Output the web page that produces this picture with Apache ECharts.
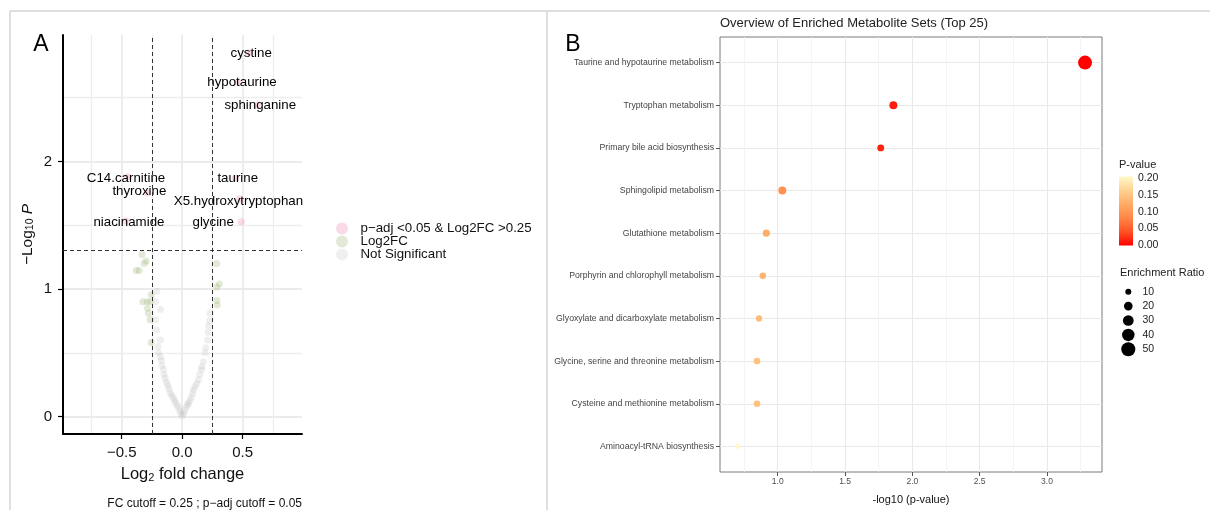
<!DOCTYPE html>
<html>
<head>
<meta charset="utf-8">
<script src="https://cdn.jsdelivr.net/npm/echarts@6.0.0/dist/echarts.min.js"></script>
<style>
  html, body { margin: 0; padding: 0; background: #fff; }
  #main { width: 1210px; height: 510px; }
</style>
</head>
<body>
<div id="main"></div>
<script>
// ---- panel A: volcano plot ----
const fcCutoff = 0.25
const pCutoff = 1.3 // -log10(0.05)
const volXTicks = [-0.5, 0, 0.5]
const volXMinor = [-0.75, -0.25, 0.25, 0.75]
const volYTicks = [0, 1, 2]
const volYMinor = [0.5, 1.5, 2.5]

const notSig = [
  [0.002, 0.005], [-0.01, 0.02], [0.012, 0.025], [-0.02, 0.045], [0.022, 0.05],
  [-0.03, 0.07], [0.035, 0.075], [-0.042, 0.09], [0.045, 0.095], [-0.055, 0.11],
  [0.052, 0.105], [-0.065, 0.13], [0.062, 0.125], [-0.075, 0.15], [0.075, 0.15],
  [-0.088, 0.17], [0.085, 0.18], [-0.1, 0.19], [0.093, 0.21], [-0.11, 0.22],
  [0.105, 0.235], [-0.118, 0.245], [0.12, 0.26], [-0.13, 0.27], [0.135, 0.29],
  [-0.14, 0.3], [0.145, 0.33], [-0.15, 0.33], [0.16, 0.37], [-0.155, 0.37],
  [0.163, 0.39], [-0.168, 0.4], [0.175, 0.43], [-0.172, 0.44], [0.19, 0.5],
  [-0.18, 0.47], [0.195, 0.54], [-0.195, 0.5], [0.21, 0.6], [-0.2, 0.55],
  [0.215, 0.66], [-0.18, 0.6], [0.218, 0.71], [-0.21, 0.68], [0.226, 0.75],
  [-0.22, 0.76], [0.23, 0.81], [-0.18, 0.84], [-0.22, 0.9], [-0.21, 0.98]
]
const fcOnly = [
  [-0.333, 1.27], [-0.314, 1.2], [-0.297, 1.22], [-0.38, 1.145], [-0.355, 1.145],
  [-0.325, 0.9], [-0.29, 0.9], [-0.265, 0.9], [-0.256, 0.955], [-0.287, 0.85],
  [-0.28, 0.81], [-0.265, 0.76], [-0.256, 0.58],
  [0.286, 1.2], [0.306, 1.04], [0.286, 1.015], [0.286, 0.91], [0.29, 0.875]
]
const sigPts = [
  ['cystine', 0.55, 2.85], ['hypotaurine', 0.46, 2.62], ['sphinganine', 0.62, 2.44],
  ['taurine', 0.44, 1.87], ['X5.hydroxytryptophan', 0.474, 1.705], ['glycine', 0.488, 1.527],
  ['C14.carnitine', -0.45, 1.88], ['thyroxine', -0.287, 1.752], ['niacinamide', -0.465, 1.535]
]
// where the repelled labels ended up (data units)
const sigLabels = [
  ['cystine', 0.57, 2.845], ['hypotaurine', 0.494, 2.62], ['sphinganine', 0.645, 2.44],
  ['taurine', 0.459, 1.87], ['X5.hydroxytryptophan', 0.465, 1.686], ['glycine', 0.256, 1.52],
  ['C14.carnitine', -0.464, 1.87], ['thyroxine', -0.354, 1.765], ['niacinamide', -0.44, 1.52]
]

// ---- panel B: enrichment dot plot ----
const pathways = [
  'Taurine and hypotaurine metabolism', 'Tryptophan metabolism', 'Primary bile acid biosynthesis',
  'Sphingolipid metabolism', 'Glutathione metabolism', 'Porphyrin and chlorophyll metabolism',
  'Glyoxylate and dicarboxylate metabolism', 'Glycine, serine and threonine metabolism',
  'Cysteine and methionine metabolism', 'Aminoacyl-tRNA biosynthesis'
]
const negLogP = [3.283, 1.859, 1.765, 1.034, 0.915, 0.889, 0.861, 0.846, 0.846, 0.703]
const enrichRatio = [50, 17, 13, 17, 14, 12, 11, 12, 12, 7]
const enrXTicks = [1.0, 1.5, 2.0, 2.5, 3.0]
const enrXMinor = [0.75, 1.25, 1.75, 2.25, 2.75, 3.25]
const pvalTicks = ['0.20', '0.15', '0.10', '0.05', '0.00']
const ratioTicks = [10, 20, 30, 40, 50]
const pvalColors = ['#ff0000', '#ff5224', '#ff8646', '#ffac66', '#ffd190', '#fff9cc']

const font = 'Liberation Sans, Arial, sans-serif'
const dotSize = r => 2.05 * Math.sqrt(r) - 0.48
const minus = v => (v < 0 ? '\u2212' : '') + Math.abs(v).toFixed(1)

const chart = echarts.init(document.getElementById('main'))

const minorAxis = (grid, min, max, vals, w, c) => ({
  gridIndex: grid, type: 'value', min: min, max: max,
  axisLine: {show: false},
  axisTick: {show: false, customValues: vals},
  axisLabel: {show: false},
  splitLine: {show: true, lineStyle: {color: c, width: w}}
})

const enrData = pathways.map((n, i) => [negLogP[i], i, enrichRatio[i], Math.pow(10, -negLogP[i]), n])

// legends for panel B drawn by hand (ggplot style)
const legendB = []
legendB.push({type: 'text', left: 1119, top: 159, style: {text: 'P-value', font: '11px ' + font, fill: '#222'}})
legendB.push({
  type: 'rect', shape: {x: 1119, y: 176.5, width: 14, height: 69},
  style: {fill: new echarts.graphic.LinearGradient(0, 0, 0, 1,
    pvalColors.slice().reverse().map((c, i) => ({offset: i / (pvalColors.length - 1), color: c})))}
})
pvalTicks.forEach((t, i) => {
  legendB.push({type: 'text', x: 1138, y: 178.5 + i * 16.7,
    style: {text: t, font: '10.5px ' + font, fill: '#222', textVerticalAlign: 'middle'}})
})
legendB.push({type: 'text', left: 1120, top: 267, style: {text: 'Enrichment Ratio', font: '11px ' + font, fill: '#222'}})
ratioTicks.forEach((r, i) => {
  const cy = 291.7 + i * 14.4
  legendB.push({type: 'circle', shape: {cx: 1128.3, cy: cy, r: dotSize(r) / 2}, style: {fill: '#000'}})
  legendB.push({type: 'text', x: 1142.5, y: cy,
    style: {text: String(r), font: '10.5px ' + font, fill: '#222', textVerticalAlign: 'middle'}})
})

chart.setOption({
  animation: false,
  textStyle: {fontFamily: font},
  grid: [
    {left: 63, top: 35, width: 239, height: 399},
    {left: 720, top: 37, width: 382, height: 443, show: true, borderColor: '#7a7a7a', borderWidth: 1}
  ],
  legend: {
    left: 331, top: 217, orient: 'vertical', icon: 'circle',
    itemWidth: 27, itemHeight: 12, itemGap: 0,
    textStyle: {fontSize: 13.3, color: '#111', lineHeight: 12},
    data: ['p\u2212adj <0.05 & Log2FC >0.25', 'Log2FC', 'Not Significant']
  },
  visualMap: {
    type: 'continuous', show: false, seriesIndex: 4, dimension: 3,
    min: 0, max: 0.2, inRange: {color: pvalColors}
  },
  xAxis: [
    {
      gridIndex: 0, type: 'value', min: -0.985, max: 0.99,
      axisLine: {onZero: false, lineStyle: {color: '#000', width: 2}},
      axisTick: {customValues: volXTicks, length: 5, lineStyle: {color: '#000', width: 1.2}},
      axisLabel: {customValues: volXTicks, formatter: minus, fontSize: 15, color: '#111', margin: 11},
      splitLine: {show: true, lineStyle: {color: '#ebebeb', width: 1.8}},
      name: '{a|Log}{s|2}{a| fold change}', nameLocation: 'middle', nameGap: 31,
      nameTextStyle: {rich: {
        a: {fontSize: 16.5, color: '#111', fontFamily: font, verticalAlign: 'bottom', lineHeight: 18},
        s: {fontSize: 11, color: '#111', fontFamily: font, verticalAlign: 'bottom', lineHeight: 14}
      }}
    },
    minorAxis(0, -0.985, 0.99, volXMinor, 1.3, '#ededed'),
    {
      gridIndex: 1, type: 'value', min: 0.571, max: 3.409,
      axisLine: {show: false, onZero: false},
      axisTick: {customValues: enrXTicks, length: 4, lineStyle: {color: '#555'}},
      axisLabel: {customValues: enrXTicks, formatter: v => v.toFixed(1), fontSize: 8.5, color: '#4d4d4d', margin: 5},
      splitLine: {show: true, lineStyle: {color: '#e9e9e9', width: 1}},
      name: '-log10 (p-value)', nameLocation: 'middle', nameGap: 22,
      nameTextStyle: {fontSize: 11, color: '#111'}
    },
    minorAxis(1, 0.571, 3.409, enrXMinor, 0.8, '#f1f1f1')
  ],
  yAxis: [
    {
      gridIndex: 0, type: 'value', min: -0.136, max: 2.99,
      axisLine: {show: true, onZero: false, lineStyle: {color: '#000', width: 2}},
      axisTick: {show: true, customValues: volYTicks, length: 5, lineStyle: {color: '#000', width: 1.2}},
      axisLabel: {customValues: volYTicks, formatter: v => String(v), fontSize: 15, color: '#111', margin: 11},
      splitLine: {show: true, lineStyle: {color: '#ebebeb', width: 1.8}},
      name: '{m|\u2212Log}{s|10}{i| P}', nameLocation: 'middle', nameGap: 27, nameRotate: 90,
      nameTextStyle: {rich: {
        m: {fontSize: 15.5, color: '#111', fontFamily: font, verticalAlign: 'bottom', lineHeight: 18},
        s: {fontSize: 10.5, color: '#111', fontFamily: font, verticalAlign: 'bottom', lineHeight: 13},
        i: {fontSize: 15.5, color: '#111', fontFamily: font, fontStyle: 'italic', verticalAlign: 'bottom', lineHeight: 18}
      }}
    },
    minorAxis(0, -0.136, 2.99, volYMinor, 1.3, '#ededed'),
    {
      gridIndex: 1, type: 'value', inverse: true, min: -0.6, max: 9.6,
      axisLine: {show: false, onZero: false},
      axisTick: {customValues: pathways.map((p, i) => i), length: 4, lineStyle: {color: '#555'}},
      axisLabel: {customValues: pathways.map((p, i) => i), formatter: v => pathways[v], fontSize: 8.7, color: '#444', margin: 6},
      splitLine: {show: true, lineStyle: {color: '#e9e9e9', width: 1}}
    }
  ],
  series: [
    {
      name: 'Not Significant', type: 'scatter', xAxisIndex: 0, yAxisIndex: 0,
      data: notSig, symbolSize: 7,
      itemStyle: {color: 'rgba(190,190,190,0.3)'},
      markLine: {
        silent: true, symbol: 'none', label: {show: false}, animation: false,
        lineStyle: {type: [4, 3], color: '#333', width: 1},
        data: [{xAxis: -fcCutoff}, {xAxis: fcCutoff}, {yAxis: pCutoff}]
      }
    },
    {
      name: 'Log2FC', type: 'scatter', xAxisIndex: 0, yAxisIndex: 0,
      data: fcOnly, symbolSize: 7,
      itemStyle: {color: 'rgba(150,180,110,0.35)'}
    },
    {
      name: 'p\u2212adj <0.05 & Log2FC >0.25', type: 'scatter', xAxisIndex: 0, yAxisIndex: 0,
      data: sigPts.map(d => [d[1], d[2]]), symbolSize: 7,
      itemStyle: {color: 'rgba(240,150,195,0.45)'}
    },
    {
      name: 'labels', type: 'scatter', xAxisIndex: 0, yAxisIndex: 0, silent: true,
      data: sigLabels.map(d => [d[1], d[2], d[0]]), symbolSize: 0,
      itemStyle: {color: 'transparent', opacity: 1},
      label: {
        show: true, position: 'inside', formatter: p => p.data[2],
        fontSize: 13.3, color: '#000', textBorderWidth: 0, opacity: 1
      }
    },
    {
      name: 'enrichment', type: 'scatter', xAxisIndex: 2, yAxisIndex: 2,
      data: enrData, symbolSize: v => dotSize(v[2]),
      itemStyle: {opacity: 1}
    }
  ],
  graphic: [
    {type: 'line', shape: {x1: 10, y1: 11, x2: 1210, y2: 11}, style: {stroke: '#d4d4d4', lineWidth: 1.5}},
    {type: 'line', shape: {x1: 10, y1: 11, x2: 10, y2: 510}, style: {stroke: '#d4d4d4', lineWidth: 1.5}},
    {type: 'line', shape: {x1: 547, y1: 11, x2: 547, y2: 510}, style: {stroke: '#d4d4d4', lineWidth: 1.5}},
    {type: 'text', x: 41, y: 45, style: {text: 'A', font: '23px ' + font, fill: '#000', textAlign: 'center', textVerticalAlign: 'middle'}},
    {type: 'text', x: 573, y: 45, style: {text: 'B', font: '23px ' + font, fill: '#000', textAlign: 'center', textVerticalAlign: 'middle'}},
    {type: 'text', x: 302, y: 504, style: {text: 'FC cutoff = 0.25 ; p\u2212adj cutoff = 0.05', font: '12px ' + font, fill: '#111', textAlign: 'right', textVerticalAlign: 'middle'}},
    {type: 'text', x: 720, y: 23, style: {text: 'Overview of Enriched Metabolite Sets (Top 25)', font: '13px ' + font, fill: '#222', textVerticalAlign: 'middle'}}
  ].concat(legendB)
})
</script>
</body>
</html>
